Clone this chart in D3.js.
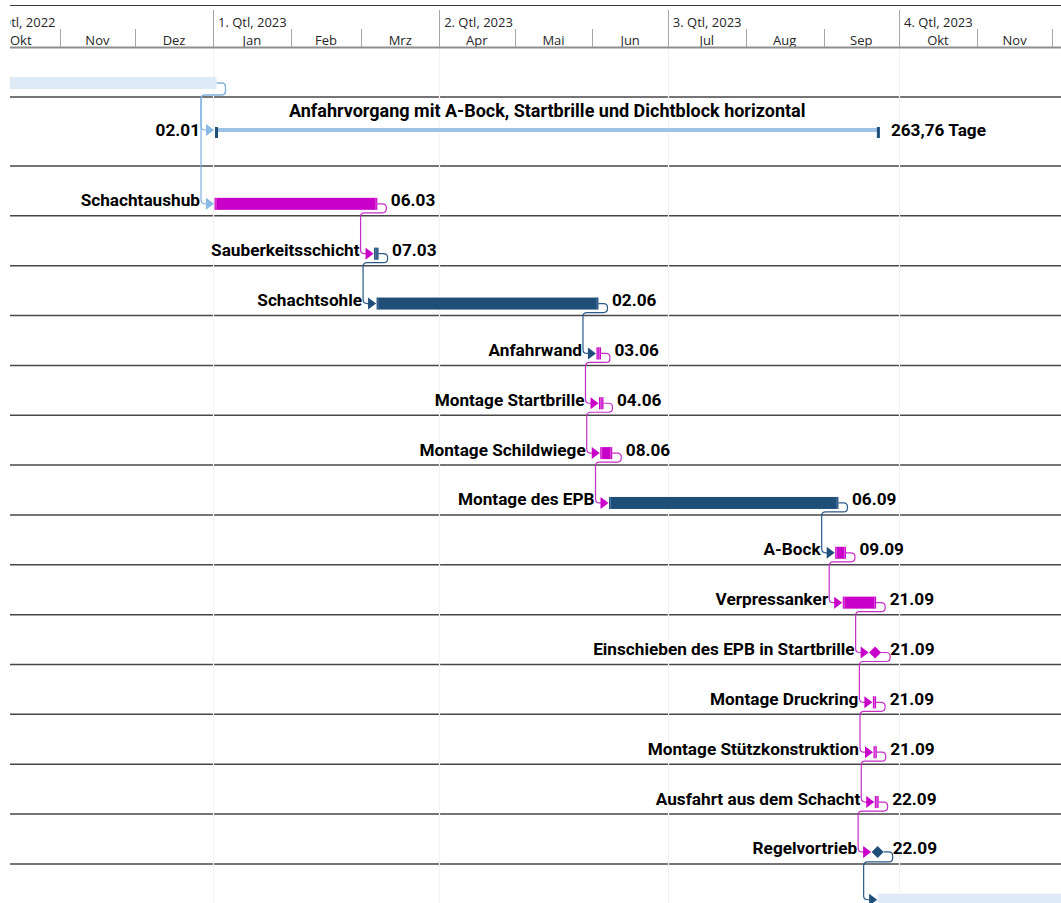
<!DOCTYPE html>
<html>
<head>
<meta charset="utf-8">
<script src="https://cdn.jsdelivr.net/npm/d3@7"></script>
<style>
  html, body { margin: 0; padding: 0; background: #fff; }
  svg { display: block; }
</style>
</head>
<body>
<script>
// ---- Timescale ----
const monthLabels = ["Okt", "Nov", "Dez", "Jan", "Feb", "Mrz", "Apr", "Mai", "Jun", "Jul", "Aug", "Sep", "Okt", "Nov", "Dez"];
const quarterLabels = ["4. Qtl, 2022", "1. Qtl, 2023", "2. Qtl, 2023", "3. Qtl, 2023", "4. Qtl, 2023"];
const timelineStart = "2022-10-01";
const timelineEnd = "2024-01-01";

// ---- Summary task ----
const summaryName = "Anfahrvorgang mit A-Bock, Startbrille und Dichtblock horizontal";
const summaryStart = "2023-01-02T00:00";
const summaryFinish = "2023-09-23T00:00";
const summaryDuration = "263,76 Tage";

// ---- Neighbouring summary bars (outside this block) ----
const previousBlock = ["2022-06-01T00:00", "2023-01-02T00:00"];
const nextBlock = ["2023-09-22T12:00", "2024-03-01T00:00"];

// ---- Tasks ----
const taskNames = [
  "Schachtaushub", "Sauberkeitsschicht", "Schachtsohle", "Anfahrwand",
  "Montage Startbrille", "Montage Schildwiege", "Montage des EPB", "A-Bock",
  "Verpressanker", "Einschieben des EPB in Startbrille", "Montage Druckring",
  "Montage Stützkonstruktion", "Ausfahrt aus dem Schacht", "Regelvortrieb"
];
const taskStarts = [
  "2023-01-02T00:00", "2023-03-06T12:00", "2023-03-07T12:00", "2023-06-03T00:00",
  "2023-06-04T00:00", "2023-06-04T12:00", "2023-06-08T00:00", "2023-09-06T00:00",
  "2023-09-09T00:00", "2023-09-21T12:00", "2023-09-21T00:00",
  "2023-09-21T06:00", "2023-09-21T18:00", "2023-09-22T12:00"
];
const taskFinishes = [
  "2023-03-07T00:00", "2023-03-07T12:00", "2023-06-03T00:00", "2023-06-04T00:00",
  "2023-06-05T00:00", "2023-06-08T12:00", "2023-09-06T12:00", "2023-09-09T12:00",
  "2023-09-21T12:00", "2023-09-21T12:00", "2023-09-21T12:00",
  "2023-09-21T18:00", "2023-09-22T12:00", "2023-09-22T12:00"
];
const taskShapes = [
  "bar", "bar", "bar", "bar", "bar", "bar", "bar", "bar",
  "bar", "milestone", "bar", "bar", "bar", "milestone"
];
const taskGroups = [
  "magenta", "navy", "navy", "magenta", "magenta", "magenta", "navy", "magenta",
  "magenta", "magenta", "magenta", "magenta", "magenta", "navy"
];

const palette = {
  magenta: { fill: "#c800c8", cap: "#e070e0", link: "#c52ec5" },
  navy:    { fill: "#1f4e79", cap: "#5a82a8", link: "#2b5a86" },
  light:   { fill: "#deebf7", link: "#7fb1df", arrow: "#8ab9e4" },
  summaryLine: "#9dc3e6",
  summaryCap: "#1f4e79"
};

// ---- Canvas ----
const W = 1061, H = 903;
const LEFT = 10;
const labelFont = "Roboto, 'Open Sans', sans-serif";
const headerFont = "'Open Sans', 'Noto Sans', sans-serif";

const parse = s => new Date(s + (s.length > 10 ? ":00Z" : "T00:00:00Z"));
const x = d3.scaleUtc()
  .domain([parse("2023-01-01"), parse("2023-10-01")])
  .range([213, 899]);

// row separators: header bottom, first summary row, taller summary row, task rows
const ROW_H = 49.85;
const rowLine = i => i === 0 ? 47 : i === 1 ? 97 : 166 + (i - 2) * ROW_H;
const rowCenter = i => {
  if (i === 0) return rowLine(1) - 14;
  if (i === 1) return rowLine(2) - 36;
  if (i === 16) return rowLine(17) - 14;
  return rowLine(i + 1) - 12;
};

const svg = d3.select("body").append("svg")
  .attr("width", W).attr("height", H)
  .attr("font-family", labelFont);

svg.append("defs").append("clipPath").attr("id", "area")
  .append("rect").attr("x", LEFT).attr("y", 0).attr("width", W - LEFT).attr("height", H);

const root = svg.append("g").attr("clip-path", "url(#area)");

// ---- Header ----
const months = d3.utcMonth.range(parse(timelineStart), parse(timelineEnd));
const quarters = d3.utcMonth.every(3).range(parse(timelineStart), parse(timelineEnd));
const header = root.append("g").attr("font-family", headerFont).attr("fill", "#262626");

header.append("line")
  .attr("x1", LEFT).attr("x2", W).attr("y1", 5.5).attr("y2", 5.5)
  .attr("stroke", "#3a3a3a").attr("stroke-width", 1);

header.selectAll("line.mdiv").data(months.slice(1)).join("line")
  .attr("class", "mdiv")
  .attr("x1", d => Math.round(x(d)) + 0.5).attr("x2", d => Math.round(x(d)) + 0.5)
  .attr("y1", d => d.getUTCMonth() % 3 === 0 ? 10 : 29).attr("y2", 47)
  .attr("stroke", "#a6a6a6").attr("stroke-width", 1);

header.selectAll("text.month").data(months).join("text")
  .attr("class", "month")
  .attr("x", d => (x(d) + x(d3.utcMonth.offset(d, 1))) / 2)
  .attr("y", 44.5)
  .attr("text-anchor", "middle")
  .attr("font-size", 13)
  .text((d, i) => monthLabels[i]);

header.selectAll("text.quarter").data(quarters).join("text")
  .attr("class", "quarter")
  .attr("x", d => x(d) + 5)
  .attr("y", 26.5)
  .attr("font-size", 13)
  .text((d, i) => quarterLabels[i]);

header.append("line")
  .attr("x1", LEFT).attr("x2", W).attr("y1", 47.5).attr("y2", 47.5)
  .attr("stroke", "#8f8f8f").attr("stroke-width", 2);

// ---- Grid ----
const grid = root.append("g");
grid.selectAll("line.row").data(d3.range(1, 17)).join("line")
  .attr("class", "row")
  .attr("x1", LEFT).attr("x2", W)
  .attr("y1", d => rowLine(d)).attr("y2", d => rowLine(d))
  .attr("stroke", "#474747").attr("stroke-width", 1.5);

grid.selectAll("line.qline").data(quarters).join("line")
  .attr("class", "qline")
  .attr("x1", d => Math.round(x(d)) + 0.5).attr("x2", d => Math.round(x(d)) + 0.5)
  .attr("y1", 49).attr("y2", H)
  .attr("stroke", "#f3f3f3").attr("stroke-width", 1.2);

// ---- Helpers ----
function elbow(x0, y0, ym, xv, ny, xEnd) {
  const r = 4, xr = x0 + 9;
  const p = d3.path();
  p.moveTo(x0, y0);
  p.lineTo(xr - r, y0);
  p.quadraticCurveTo(xr, y0, xr, y0 + r);
  p.lineTo(xr, ym - r);
  p.quadraticCurveTo(xr, ym, xr - r, ym);
  p.lineTo(xv + r, ym);
  p.quadraticCurveTo(xv, ym, xv, ym + r);
  p.lineTo(xv, ny - r);
  p.quadraticCurveTo(xv, ny, xv + r, ny);
  p.lineTo(xEnd, ny);
  return p.toString();
}
const arrowPts = (tx, ty) => `${tx},${ty} ${tx - 8},${ty - 6} ${tx - 8},${ty + 6}`;
const diamondPts = (cx, cy, h) => `${cx - h},${cy} ${cx},${cy - h} ${cx + h},${cy} ${cx},${cy + h}`;
const dayLabel = d => d3.utcFormat("%d.%m")(new Date(d.getTime() - 1));

const links = root.append("g").attr("fill", "none").attr("stroke-width", 1.2);
const marks = root.append("g");
const labels = root.append("g").attr("font-weight", 700).attr("font-size", 17.2).attr("fill", "#000");

// ---- Task geometry ----
const MH = 6; // milestone half size
const tasks = taskNames.map((name, i) => {
  const s = parse(taskStarts[i]), f = parse(taskFinishes[i]);
  const row = i + 2;
  const cy = rowCenter(row);
  const shape = taskShapes[i];
  const left = shape === "bar" ? x(s) - 1 : x(f) - MH;
  const right = shape === "bar" ? x(f) + 1 : x(f) + MH;
  return { name, s, f, row, cy, shape, group: taskGroups[i], left, right };
});

// ---- Previous block summary bar and its links ----
const pS = parse(previousBlock[0]), pF = parse(previousBlock[1]);
marks.append("rect")
  .attr("x", x(pS)).attr("y", rowCenter(0) - 6)
  .attr("width", x(pF) + 1 - x(pS)).attr("height", 12)
  .attr("fill", palette.light.fill);

const sumStartX = x(parse(summaryStart));
const sumFinishX = x(parse(summaryFinish));
const firstTargets = [
  { tx: sumStartX - 1.5, ty: rowCenter(1) },
  { tx: tasks[0].left - 0.5, ty: tasks[0].cy }
];
firstTargets.forEach(t => {
  links.append("path")
    .attr("d", elbow(x(pF) + 1, rowCenter(0), rowLine(1) - 2, t.tx - 13, t.ty, t.tx - 7))
    .attr("stroke", palette.light.link);
  marks.append("polygon").attr("points", arrowPts(t.tx, t.ty)).attr("fill", palette.light.arrow);
});

// ---- Summary row ----
const sy = rowCenter(1);
marks.append("rect")
  .attr("x", sumStartX).attr("y", sy - 2)
  .attr("width", sumFinishX - sumStartX).attr("height", 4)
  .attr("fill", palette.summaryLine);
[sumStartX - 0.5, sumFinishX - 2].forEach(cx => {
  marks.append("rect")
    .attr("x", cx).attr("y", sy - 3)
    .attr("width", 3).attr("height", 11)
    .attr("fill", palette.summaryCap);
});
labels.append("text")
  .attr("x", (sumStartX + sumFinishX) / 2).attr("y", rowLine(1) + 20)
  .attr("text-anchor", "middle")
  .attr("font-size", 18)
  .text(summaryName);
labels.append("text")
  .attr("x", sumStartX - 15.5).attr("y", sy + 6)
  .attr("text-anchor", "end")
  .text(dayLabel(new Date(parse(summaryStart).getTime() + 1)));
labels.append("text")
  .attr("x", sumFinishX + 12).attr("y", sy + 6)
  .text(summaryDuration);

// ---- Task links ----
tasks.forEach((t, i) => {
  if (i === 0) return;
  const p = tasks[i - 1];
  const tx = t.left - 0.5;
  const col = palette[p.group];
  links.append("path")
    .attr("d", elbow(p.right, p.cy, rowLine(p.row + 1) - 3, tx - 13, t.cy, tx - 7))
    .attr("stroke", col.link);
  marks.append("polygon").attr("points", arrowPts(tx, t.cy)).attr("fill", col.fill);
});

// ---- Next block summary bar ----
const nS = parse(nextBlock[0]), nF = parse(nextBlock[1]);
const lastTask = tasks[tasks.length - 1];
const ny = rowCenter(16);
links.append("path")
  .attr("d", elbow(lastTask.right, lastTask.cy, rowLine(16) - 2, x(nS) - 14, ny, x(nS) - 8))
  .attr("stroke", palette[lastTask.group].link);
marks.append("rect")
  .attr("x", x(nS)).attr("y", ny - 6)
  .attr("width", x(nF) - x(nS)).attr("height", 12)
  .attr("fill", palette.light.fill);
marks.append("polygon").attr("points", arrowPts(x(nS) - 0.5, ny)).attr("fill", palette[lastTask.group].fill);

// ---- Task marks ----
tasks.forEach(t => {
  const col = palette[t.group];
  if (t.shape === "bar") {
    marks.append("rect")
      .attr("x", t.left).attr("y", t.cy - 6)
      .attr("width", t.right - t.left).attr("height", 12)
      .attr("fill", col.fill);
    [t.left + 1.5, t.right - 1.5].forEach(cx => {
      marks.append("line")
        .attr("x1", cx).attr("x2", cx).attr("y1", t.cy - 6).attr("y2", t.cy + 6)
        .attr("stroke", col.cap).attr("stroke-width", 0.8);
    });
  } else {
    marks.append("polygon")
      .attr("points", diamondPts(x(t.f), t.cy, MH))
      .attr("fill", col.fill);
  }
  labels.append("text")
    .attr("x", t.left - 14.5).attr("y", t.cy + 2.5)
    .attr("text-anchor", "end")
    .text(t.name);
  labels.append("text")
    .attr("x", t.right + (t.shape === "bar" ? 13.5 : 9)).attr("y", t.cy + 2.5)
    .text(dayLabel(t.f));
});
</script>
</body>
</html>
